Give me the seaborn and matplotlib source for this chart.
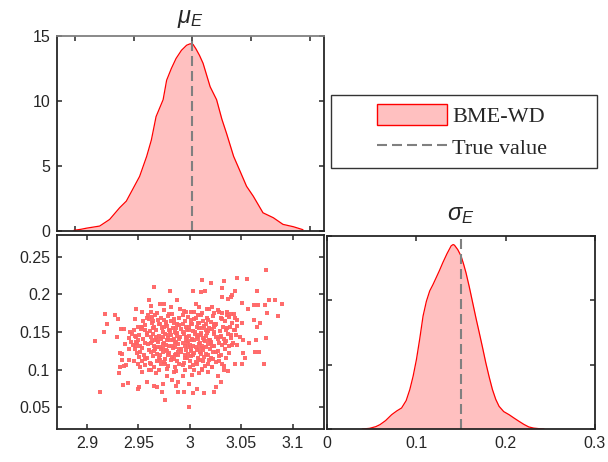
import matplotlib
matplotlib.use('Agg')
import matplotlib.pyplot as plt
import seaborn as sns
from matplotlib.patches import Patch, Rectangle
from matplotlib.lines import Line2D

# ---------------- data ----------------
mu_true = 3.0
sigma_true = 0.15

mu_grid = [2.899, 2.905, 2.910, 2.921, 2.9295, 2.938, 2.9437, 2.949, 2.955, 2.961, 2.965, 2.969,
           2.975, 2.978, 2.982, 2.986, 2.9906, 2.995, 2.998, 3.0005, 3.003, 3.006, 3.009, 3.012,
           3.015, 3.0205, 3.025, 3.029, 3.035, 3.040, 3.046, 3.0517, 3.060, 3.0688, 3.077,
           3.0858, 3.094]
mu_density = [0.05, 0.13, 0.22, 0.38, 0.89, 1.79, 2.30, 3.19, 4.2, 5.74, 7.0, 8.8,
              10.1, 11.6, 12.5, 13.27, 13.9, 14.29, 14.4, 14.35, 14.0, 13.5, 12.9, 12.0,
              11.1, 10.1, 8.6, 7.5, 5.74, 4.7, 3.44, 2.68, 1.40, 1.02, 0.51,
              0.33, 0.10]

sigma_grid = [0.040, 0.048, 0.055, 0.0598, 0.066, 0.0728, 0.0785, 0.0839, 0.089, 0.0931, 0.0968,
              0.1005, 0.1042, 0.1079, 0.1116, 0.1153, 0.119, 0.1226, 0.1263, 0.130, 0.1347,
              0.1393, 0.1415, 0.143, 0.1467, 0.1504, 0.1531, 0.1559, 0.1596, 0.1633, 0.167,
              0.1707, 0.1744, 0.178, 0.1817, 0.1854, 0.1891, 0.1928, 0.198, 0.204, 0.2095,
              0.215, 0.2205, 0.226, 0.2315, 0.237, 0.243]
sigma_density = [0.0, 0.05, 0.18, 0.34, 0.65, 1.11, 1.40, 1.63, 2.2, 3.06, 4.1,
                 5.39, 7.0, 8.76, 9.9, 10.7, 11.2, 11.74, 12.3, 12.9, 13.6,
                 14.2, 14.3, 14.25, 13.9, 13.4, 12.8, 12.1, 11.0, 9.8, 8.6,
                 7.46, 6.3, 5.13, 4.05, 3.06, 2.3, 1.76, 1.35, 1.11, 0.85,
                 0.6, 0.36, 0.16, 0.07, 0.03, 0.0]

# posterior samples (mu_E, sigma_E)
mu_samples = [
    # outer points
    3.074, 3.046, 3.056, 3.033, 3.012, 3.021, 2.965, 2.981, 3.003, 3.011, 3.015, 3.031, 3.044, 3.065,
    3.041, 3.031, 3.037, 3.040, 3.051, 3.057, 3.062, 3.066, 3.073, 3.077, 3.083, 3.090, 3.086, 3.075,
    3.068, 3.065, 3.062, 3.074, 3.064, 3.058, 3.052, 3.063, 3.067, 3.052, 3.054, 3.044, 3.051, 3.072,
    3.033, 3.033, 3.037, 3.027, 3.030, 3.026, 3.024, 3.014, 3.007, 3.003, 2.999, 2.999, 2.994, 2.989,
    2.989, 2.987, 2.983, 2.976, 2.973, 2.974, 2.968, 2.965, 2.958, 2.951, 2.950, 2.940, 2.935, 2.913,
    2.931, 2.932, 2.936, 2.938, 2.941, 2.946, 2.950, 2.934, 2.934, 2.932, 2.941, 2.948, 2.948, 2.937,
    2.929, 2.933, 2.936, 2.908, 2.917, 2.920, 2.918, 2.927, 2.930, 2.942, 2.947, 2.948, 2.954, 2.960,
    2.959, 2.963, 2.964, 2.954, 2.957, 2.962, 2.971, 2.975, 2.982, 2.988, 2.994, 3.001, 3.006, 3.009,
    3.017, 3.022, 3.027, 3.031, 3.036, 3.043, 3.046, 3.051, 3.044, 3.049, 3.041, 3.046, 3.038, 3.035,
    3.028, 3.022, 3.018, 3.009, 3.012, 3.002, 2.993, 2.985, 2.978, 2.967, 2.960, 2.954, 2.952,
    # core
    2.962, 2.975, 2.983, 2.991, 3.004, 3.012, 3.019, 3.028, 3.036,
    2.958, 2.966, 2.972, 2.979, 2.985, 2.993, 2.998, 3.006, 3.011, 3.017, 3.023, 3.031, 3.038, 3.044,
    2.955, 2.963, 2.969, 2.977, 2.982, 2.988, 2.995, 3.001, 3.008, 3.013, 3.021, 3.026, 3.034, 3.041,
    2.950, 2.957, 2.965, 2.971, 2.978, 2.984, 2.990, 2.996, 3.002, 3.007, 3.014, 3.019, 3.025, 3.032, 3.039, 3.046,
    2.946, 2.953, 2.961, 2.967, 2.973, 2.980, 2.986, 2.992, 2.997, 3.003, 3.009, 3.016, 3.022, 3.029, 3.035, 3.043,
    2.944, 2.951, 2.958, 2.964, 2.970, 2.976, 2.982, 2.988, 2.994, 2.999, 3.005, 3.011, 3.017, 3.024, 3.030, 3.037, 3.045,
    2.941, 2.948, 2.955, 2.962, 2.968, 2.974, 2.979, 2.985, 2.991, 2.996, 3.002, 3.007, 3.013, 3.019, 3.026, 3.033, 3.040,
    2.943, 2.950, 2.957, 2.963, 2.969, 2.975, 2.981, 2.987, 2.993, 2.998, 3.004, 3.010, 3.015, 3.021, 3.028, 3.035, 3.042,
    2.945, 2.952, 2.959, 2.965, 2.971, 2.977, 2.983, 2.989, 2.995, 3.000, 3.006, 3.012, 3.018, 3.024, 3.031, 3.038,
    2.947, 2.954, 2.960, 2.966, 2.972, 2.978, 2.984, 2.990, 2.996, 3.001, 3.007, 3.013, 3.020, 3.027, 3.034,
    2.949, 2.956, 2.962, 2.968, 2.974, 2.980, 2.986, 2.992, 2.998, 3.004, 3.010, 3.016, 3.023, 3.030,
    2.951, 2.958, 2.964, 2.970, 2.976, 2.983, 2.989, 2.995, 3.001, 3.008, 3.014, 3.021, 3.028,
    2.954, 2.961, 2.968, 2.975, 2.982, 2.988, 2.994, 3.000, 3.006, 3.013, 3.019, 3.026,
    2.957, 2.965, 2.972, 2.979, 2.986, 2.993, 3.000, 3.007, 3.015, 3.022,
    2.962, 2.970, 2.978, 2.987, 2.995, 3.004, 3.012,
    2.974, 2.981, 2.987, 2.993, 2.999, 3.005, 3.011, 3.018, 3.024,
    2.966, 2.972, 2.978, 2.984, 2.990, 2.996, 3.002, 3.008, 3.014, 3.020, 3.027,
    2.968, 2.974, 2.980, 2.986, 2.992, 2.998, 3.003, 3.009, 3.016, 3.022,
    2.971, 2.979, 2.987, 2.995, 3.003, 3.011, 3.018,
    2.970, 2.977, 2.985, 2.993, 3.001, 3.009, 3.016, 3.024,
    # core, second layer
    2.960, 2.975, 2.990, 3.004, 3.018, 3.030,
    2.954, 2.964, 2.975, 2.987, 2.999, 3.012, 3.024, 3.036,
    2.947, 2.958, 2.967, 2.979, 2.988, 2.997, 3.008, 3.016, 3.029, 3.040,
    2.949, 2.962, 2.974, 2.986, 2.997, 3.009, 3.021, 3.034,
    2.952, 2.965, 2.977, 2.989, 3.001, 3.013, 3.026,
    2.957, 2.971, 2.985, 2.997, 3.010, 3.023,
    2.968, 2.980, 2.996, 3.008, 3.024, 3.040,
    2.962, 2.976, 2.990, 3.003, 3.018, 3.031,
]
sigma_samples = [
    # outer points
    0.233, 0.222, 0.220, 0.218, 0.219, 0.215, 0.210, 0.205, 0.205, 0.203, 0.205, 0.209, 0.204, 0.205,
    0.199, 0.197, 0.194, 0.197, 0.189, 0.180, 0.186, 0.186, 0.186, 0.193, 0.192, 0.187, 0.171, 0.175,
    0.162, 0.156, 0.166, 0.142, 0.140, 0.136, 0.139, 0.123, 0.123, 0.122, 0.116, 0.108, 0.108, 0.108,
    0.105, 0.099, 0.098, 0.091, 0.083, 0.077, 0.070, 0.069, 0.074, 0.069, 0.050, 0.081, 0.070, 0.070,
    0.084, 0.078, 0.086, 0.059, 0.070, 0.081, 0.077, 0.078, 0.083, 0.077, 0.074, 0.082, 0.080, 0.070,
    0.096, 0.104, 0.105, 0.106, 0.113, 0.112, 0.108, 0.113, 0.121, 0.122, 0.128, 0.131, 0.137, 0.134,
    0.143, 0.154, 0.154, 0.138, 0.150, 0.160, 0.174, 0.172, 0.167, 0.150, 0.167, 0.181, 0.176, 0.192,
    0.173, 0.170, 0.165, 0.157, 0.153, 0.184, 0.187, 0.187, 0.183, 0.193, 0.178, 0.176, 0.187, 0.183,
    0.181, 0.183, 0.179, 0.175, 0.177, 0.174, 0.166, 0.162, 0.153, 0.144, 0.133, 0.133, 0.122, 0.115,
    0.112, 0.104, 0.097, 0.095, 0.100, 0.093, 0.092, 0.097, 0.091, 0.095, 0.100, 0.097, 0.104,
    # core
    0.176, 0.179, 0.174, 0.181, 0.177, 0.175, 0.180, 0.176, 0.173,
    0.169, 0.172, 0.168, 0.171, 0.167, 0.173, 0.170, 0.168, 0.172, 0.169, 0.171, 0.167, 0.170, 0.168,
    0.164, 0.162, 0.166, 0.163, 0.165, 0.161, 0.164, 0.166, 0.162, 0.165, 0.163, 0.161, 0.164, 0.162,
    0.157, 0.159, 0.156, 0.160, 0.158, 0.155, 0.159, 0.157, 0.160, 0.156, 0.158, 0.155, 0.159, 0.157, 0.156, 0.158,
    0.152, 0.154, 0.151, 0.153, 0.155, 0.152, 0.150, 0.154, 0.153, 0.151, 0.155, 0.152, 0.154, 0.151, 0.153, 0.152,
    0.148, 0.146, 0.149, 0.147, 0.145, 0.148, 0.146, 0.149, 0.147, 0.145, 0.148, 0.146, 0.149, 0.147, 0.145, 0.148, 0.146,
    0.142, 0.144, 0.141, 0.143, 0.140, 0.144, 0.142, 0.141, 0.143, 0.144, 0.141, 0.143, 0.142, 0.140, 0.143, 0.141, 0.142,
    0.137, 0.139, 0.136, 0.138, 0.137, 0.135, 0.139, 0.137, 0.136, 0.138, 0.139, 0.136, 0.138, 0.137, 0.135, 0.138, 0.136,
    0.133, 0.131, 0.134, 0.132, 0.130, 0.133, 0.131, 0.134, 0.132, 0.133, 0.130, 0.132, 0.134, 0.131, 0.133, 0.132,
    0.127, 0.129, 0.126, 0.128, 0.127, 0.125, 0.129, 0.127, 0.126, 0.128, 0.126, 0.129, 0.127, 0.125, 0.128,
    0.122, 0.120, 0.123, 0.121, 0.124, 0.122, 0.120, 0.123, 0.121, 0.122, 0.124, 0.121, 0.123, 0.120,
    0.117, 0.115, 0.118, 0.116, 0.114, 0.117, 0.119, 0.116, 0.118, 0.115, 0.117, 0.116, 0.118,
    0.111, 0.109, 0.112, 0.110, 0.113, 0.111, 0.109, 0.112, 0.110, 0.111, 0.113, 0.110,
    0.106, 0.104, 0.107, 0.105, 0.103, 0.106, 0.104, 0.107, 0.105, 0.103,
    0.100, 0.099, 0.101, 0.098, 0.100, 0.099, 0.101,
    0.150, 0.151, 0.149, 0.150, 0.152, 0.150, 0.149, 0.151, 0.150,
    0.140, 0.141, 0.139, 0.140, 0.141, 0.139, 0.140, 0.141, 0.139, 0.140, 0.141,
    0.130, 0.129, 0.131, 0.130, 0.128, 0.130, 0.131, 0.129, 0.130, 0.131,
    0.120, 0.119, 0.121, 0.120, 0.119, 0.121, 0.120,
    0.161, 0.160, 0.162, 0.160, 0.161, 0.162, 0.160, 0.161,
    # core, second layer
    0.167, 0.166, 0.168, 0.167, 0.166, 0.168,
    0.156, 0.155, 0.156, 0.155, 0.157, 0.155, 0.156, 0.155,
    0.145, 0.146, 0.144, 0.146, 0.145, 0.144, 0.146, 0.145, 0.144, 0.146,
    0.135, 0.136, 0.134, 0.135, 0.136, 0.134, 0.135, 0.136,
    0.124, 0.125, 0.126, 0.124, 0.125, 0.126, 0.124,
    0.114, 0.113, 0.114, 0.115, 0.113, 0.114,
    0.175, 0.174, 0.176, 0.173, 0.175, 0.174,
    0.108, 0.107, 0.108, 0.106, 0.108, 0.107,
]

mu_ticks = [2.9, 2.95, 3.0, 3.05, 3.1]
mu_tick_labels = ['2.9', '2.95', '3', '3.05', '3.1']
sigma_ticks = [0.05, 0.1, 0.15, 0.2, 0.25]
sigma_tick_labels = ['0.05', '0.1', '0.15', '0.2', '0.25']
density_ticks = [0, 5, 10, 15]
density_tick_labels = ['0', '5', '10', '15']
sigma_x_ticks = [0, 0.1, 0.2, 0.3]
sigma_x_tick_labels = ['0', '0.1', '0.2', '0.3']
legend_labels = ['BME-WD', 'True value']

# ---------------- style ----------------
sns.set_style('white')
plt.rcParams['font.family'] = ['Liberation Sans', 'DejaVu Sans']
plt.rcParams['mathtext.fontset'] = 'custom'
plt.rcParams['mathtext.it'] = 'Liberation Sans:italic'
plt.rcParams['mathtext.rm'] = 'Liberation Sans'

FILL = '#ffc0c0'
EDGE = '#ff0000'
DOT = '#ff6464'
TRUE_C = '#808080'
SPINE = '#262626'
DASH = (0, (4.8, 2.4))

W, H = 608, 462
fig = plt.figure(figsize=(W / 100, H / 100), dpi=100)
ax_mu = fig.add_axes([57 / W, 1 - 231 / H, 267 / W, 195 / H])
ax_sc = fig.add_axes([57 / W, 1 - 429 / H, 267 / W, 194 / H])
ax_sg = fig.add_axes([326.5 / W, 1 - 429 / H, 268.5 / W, 193.5 / H])


def style(ax):
    for s in ax.spines.values():
        s.set_color(SPINE)
        s.set_linewidth(1.3)
        s.set_visible(True)
    ax.tick_params(direction='in', length=3.5, width=1.1, color=SPINE,
                   top=True, right=True, bottom=True, left=True,
                   labelsize=11.5, labelcolor=SPINE, pad=5)
    ax.grid(False)


# ---- mu_E marginal ----
ax_mu.fill_between(mu_grid, mu_density, 0, color=FILL, lw=0)
sns.lineplot(x=mu_grid, y=mu_density, ax=ax_mu, color=EDGE, lw=0.9)
ax_mu.axvline(mu_true, color=TRUE_C, lw=1.5, ls=DASH)
ax_mu.set_xlim(2.8847, 3.1119)
ax_mu.set_ylim(0, 15)
ax_mu.set_xticks(mu_ticks)
ax_mu.set_xticklabels([])
ax_mu.set_yticks(density_ticks)
ax_mu.set_yticklabels(density_tick_labels)
style(ax_mu)
ax_mu.spines['top'].set_color('#808080')
ax_mu.set_title(r'$\mu_E$', fontsize=17, pad=9, color=SPINE)

# ---- joint scatter ----
sns.scatterplot(x=mu_samples, y=sigma_samples, ax=ax_sc, color=DOT, s=8,
                marker='s', linewidth=0, alpha=0.95)
ax_sc.set_xlim(2.871, 3.1305)
ax_sc.set_ylim(0.0207, 0.2793)
ax_sc.set_xticks(mu_ticks)
ax_sc.set_xticklabels(mu_tick_labels)
ax_sc.set_yticks(sigma_ticks)
ax_sc.set_yticklabels(sigma_tick_labels)
style(ax_sc)

# ---- sigma_E marginal ----
ax_sg.fill_between(sigma_grid, sigma_density, 0, color=FILL, lw=0)
sns.lineplot(x=sigma_grid, y=sigma_density, ax=ax_sg, color=EDGE, lw=0.9)
ax_sg.axvline(sigma_true, color=TRUE_C, lw=1.5, ls=DASH)
ax_sg.set_xlim(0, 0.3)
ax_sg.set_ylim(0, 15)
ax_sg.set_xticks(sigma_x_ticks)
ax_sg.set_xticklabels(sigma_x_tick_labels)
ax_sg.set_yticks(density_ticks)
ax_sg.set_yticklabels([])
style(ax_sg)
ax_sg.set_title(r'$\sigma_E$', fontsize=17, pad=11, color=SPINE)

# ---- legend ----
handles = [Patch(facecolor=FILL, edgecolor=EDGE, lw=1.0, label=legend_labels[0]),
           Line2D([], [], color=TRUE_C, lw=1.5, ls=DASH, label=legend_labels[1])]
fig.legend(handles=handles, loc='center', bbox_to_anchor=(462 / W, 1 - 131.5 / H),
           frameon=False, prop={'family': 'Liberation Serif', 'size': 16},
           handlelength=3.15, handleheight=1.1, handletextpad=0.25, labelspacing=0.4,
           borderpad=0.2)
fig.add_artist(Rectangle((331 / W, 1 - 168 / H), 266 / W, 73 / H, transform=fig.transFigure,
                         fill=False, edgecolor='#333333', lw=1.0))

fig.savefig('out.png', dpi=100)
